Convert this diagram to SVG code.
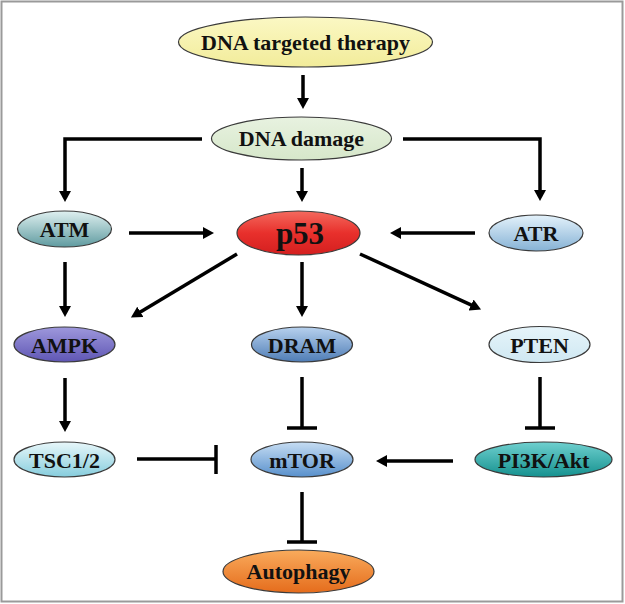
<svg xmlns="http://www.w3.org/2000/svg" width="625" height="604" viewBox="0 0 625 604">
<defs>
<style>
.n{stroke:#3a3a3a;stroke-width:1.2}
.t{font-family:"Liberation Serif","Times New Roman",serif;font-weight:bold;font-size:22px;fill:#111;text-anchor:middle}
.c line,.c polyline{stroke:#000;stroke-width:3.5;fill:none}
.c .a{marker-end:url(#ah)}
</style>
<marker id="ah" markerUnits="userSpaceOnUse" markerWidth="12" markerHeight="12" refX="1" refY="6" orient="auto"><path d="M0,0 L11,6 L0,12 z" fill="#000"/></marker>
<linearGradient id="gY" x1="0" y1="0" x2="0" y2="1"><stop offset="0" stop-color="#fbf8c4"/><stop offset="1" stop-color="#f2ec9a"/></linearGradient>
<linearGradient id="gG" x1="0" y1="0" x2="0" y2="1"><stop offset="0" stop-color="#e8f2e0"/><stop offset="1" stop-color="#d6e7ca"/></linearGradient>
<linearGradient id="gATM" x1="0" y1="0" x2="0" y2="1"><stop offset="0" stop-color="#dff0f0"/><stop offset="1" stop-color="#5f9ba0"/></linearGradient>
<linearGradient id="gP53" x1="0" y1="0" x2="0" y2="1"><stop offset="0" stop-color="#f46a5e"/><stop offset="0.5" stop-color="#e8302c"/><stop offset="1" stop-color="#d41f1f"/></linearGradient>
<linearGradient id="gATR" x1="0" y1="0" x2="0" y2="1"><stop offset="0" stop-color="#e4f2fb"/><stop offset="1" stop-color="#86b2d5"/></linearGradient>
<linearGradient id="gAMPK" x1="0" y1="0" x2="0" y2="1"><stop offset="0" stop-color="#9e98dc"/><stop offset="1" stop-color="#5f56b4"/></linearGradient>
<linearGradient id="gDRAM" x1="0" y1="0" x2="0" y2="1"><stop offset="0" stop-color="#b7d1ee"/><stop offset="1" stop-color="#4f7db6"/></linearGradient>
<linearGradient id="gPTEN" x1="0" y1="0" x2="0" y2="1"><stop offset="0" stop-color="#e6f4fa"/><stop offset="1" stop-color="#cfe8f2"/></linearGradient>
<linearGradient id="gTSC" x1="0" y1="0" x2="0" y2="1"><stop offset="0" stop-color="#e8f7fa"/><stop offset="1" stop-color="#86cddd"/></linearGradient>
<linearGradient id="gMTOR" x1="0" y1="0" x2="0" y2="1"><stop offset="0" stop-color="#c6ddf3"/><stop offset="1" stop-color="#5890cc"/></linearGradient>
<linearGradient id="gPI3K" x1="0" y1="0" x2="0" y2="1"><stop offset="0" stop-color="#6fd0cf"/><stop offset="1" stop-color="#15918f"/></linearGradient>
<linearGradient id="gAUTO" x1="0" y1="0" x2="0" y2="1"><stop offset="0" stop-color="#f9ab5c"/><stop offset="1" stop-color="#e56c1c"/></linearGradient>
</defs>
<rect x="0" y="0" width="625" height="604" fill="#fff"/>
<rect x="1.5" y="1.5" width="621" height="600" fill="none" stroke="#9a9a9a" stroke-width="2"/>

<g class="c" id="connectors">
<line class="a" x1="303" y1="75" x2="303" y2="99"/>
<polyline class="a" points="202,139 65,139 65,192"/>
<polyline class="a" points="403,139 540,139 540,191"/>
<line class="a" x1="302" y1="168" x2="302" y2="192"/>
<line class="a" x1="129" y1="233" x2="204" y2="233"/>
<line class="a" x1="475" y1="233" x2="400" y2="233"/>
<line class="a" x1="237" y1="254" x2="139.5" y2="312.4"/>
<line class="a" x1="360" y1="254" x2="472" y2="305.4"/>
<line class="a" x1="302" y1="262" x2="302" y2="307"/>
<line class="a" x1="65" y1="262" x2="65" y2="307"/>
<line class="a" x1="65" y1="378" x2="65" y2="422"/>
<line x1="137" y1="459" x2="216" y2="459"/>
<line x1="216" y1="445" x2="216" y2="474"/>
<line x1="302" y1="377" x2="302" y2="428"/>
<line x1="287" y1="428" x2="317" y2="428"/>
<line x1="540" y1="377" x2="540" y2="428"/>
<line x1="525" y1="428" x2="555" y2="428"/>
<line class="a" x1="453" y1="461" x2="386" y2="461"/>
<line x1="302" y1="492" x2="302" y2="542"/>
<line x1="287" y1="542" x2="317" y2="542"/>
</g>

<g id="therapy"><ellipse class="n" cx="305.5" cy="42" rx="127" ry="25" fill="url(#gY)"/><text class="t" x="305.5" y="50">DNA targeted therapy</text></g>
<g id="damage"><ellipse class="n" cx="301.5" cy="138.5" rx="90" ry="21.5" fill="url(#gG)"/><text class="t" x="301.5" y="146">DNA damage</text></g>
<g id="atm"><ellipse class="n" cx="64.5" cy="229" rx="47" ry="18" fill="url(#gATM)"/><text class="t" x="64.5" y="237">ATM</text></g>
<g id="p53"><ellipse class="n" cx="298.5" cy="233" rx="61.5" ry="22" fill="url(#gP53)"/><text class="t" x="300" y="244" style="font-size:31px">p53</text></g>
<g id="atr"><ellipse class="n" cx="536" cy="233" rx="47" ry="18" fill="url(#gATR)"/><text class="t" x="536" y="241">ATR</text></g>
<g id="ampk"><ellipse class="n" cx="64.5" cy="344.5" rx="50.5" ry="17.5" fill="url(#gAMPK)"/><text class="t" x="64.5" y="352.5">AMPK</text></g>
<g id="dram"><ellipse class="n" cx="302" cy="344.5" rx="50.5" ry="17.5" fill="url(#gDRAM)"/><text class="t" x="302" y="352.5">DRAM</text></g>
<g id="pten"><ellipse class="n" cx="539.5" cy="344.5" rx="50.5" ry="18" fill="url(#gPTEN)"/><text class="t" x="539.5" y="352.5">PTEN</text></g>
<g id="tsc"><ellipse class="n" cx="64.5" cy="459.5" rx="50.5" ry="17.5" fill="url(#gTSC)"/><text class="t" x="64.5" y="467.5">TSC1/2</text></g>
<g id="mtor"><ellipse class="n" cx="302" cy="459.5" rx="51" ry="17.5" fill="url(#gMTOR)"/><text class="t" x="302" y="467.5">mTOR</text></g>
<g id="pi3k"><ellipse class="n" cx="543.5" cy="459.5" rx="68.5" ry="17.5" fill="url(#gPI3K)"/><text class="t" x="543.5" y="467.5">PI3K/Akt</text></g>
<g id="autophagy"><ellipse class="n" cx="298.5" cy="571.5" rx="75.5" ry="21.5" fill="url(#gAUTO)"/><text class="t" x="298.5" y="579">Autophagy</text></g>
</svg>
